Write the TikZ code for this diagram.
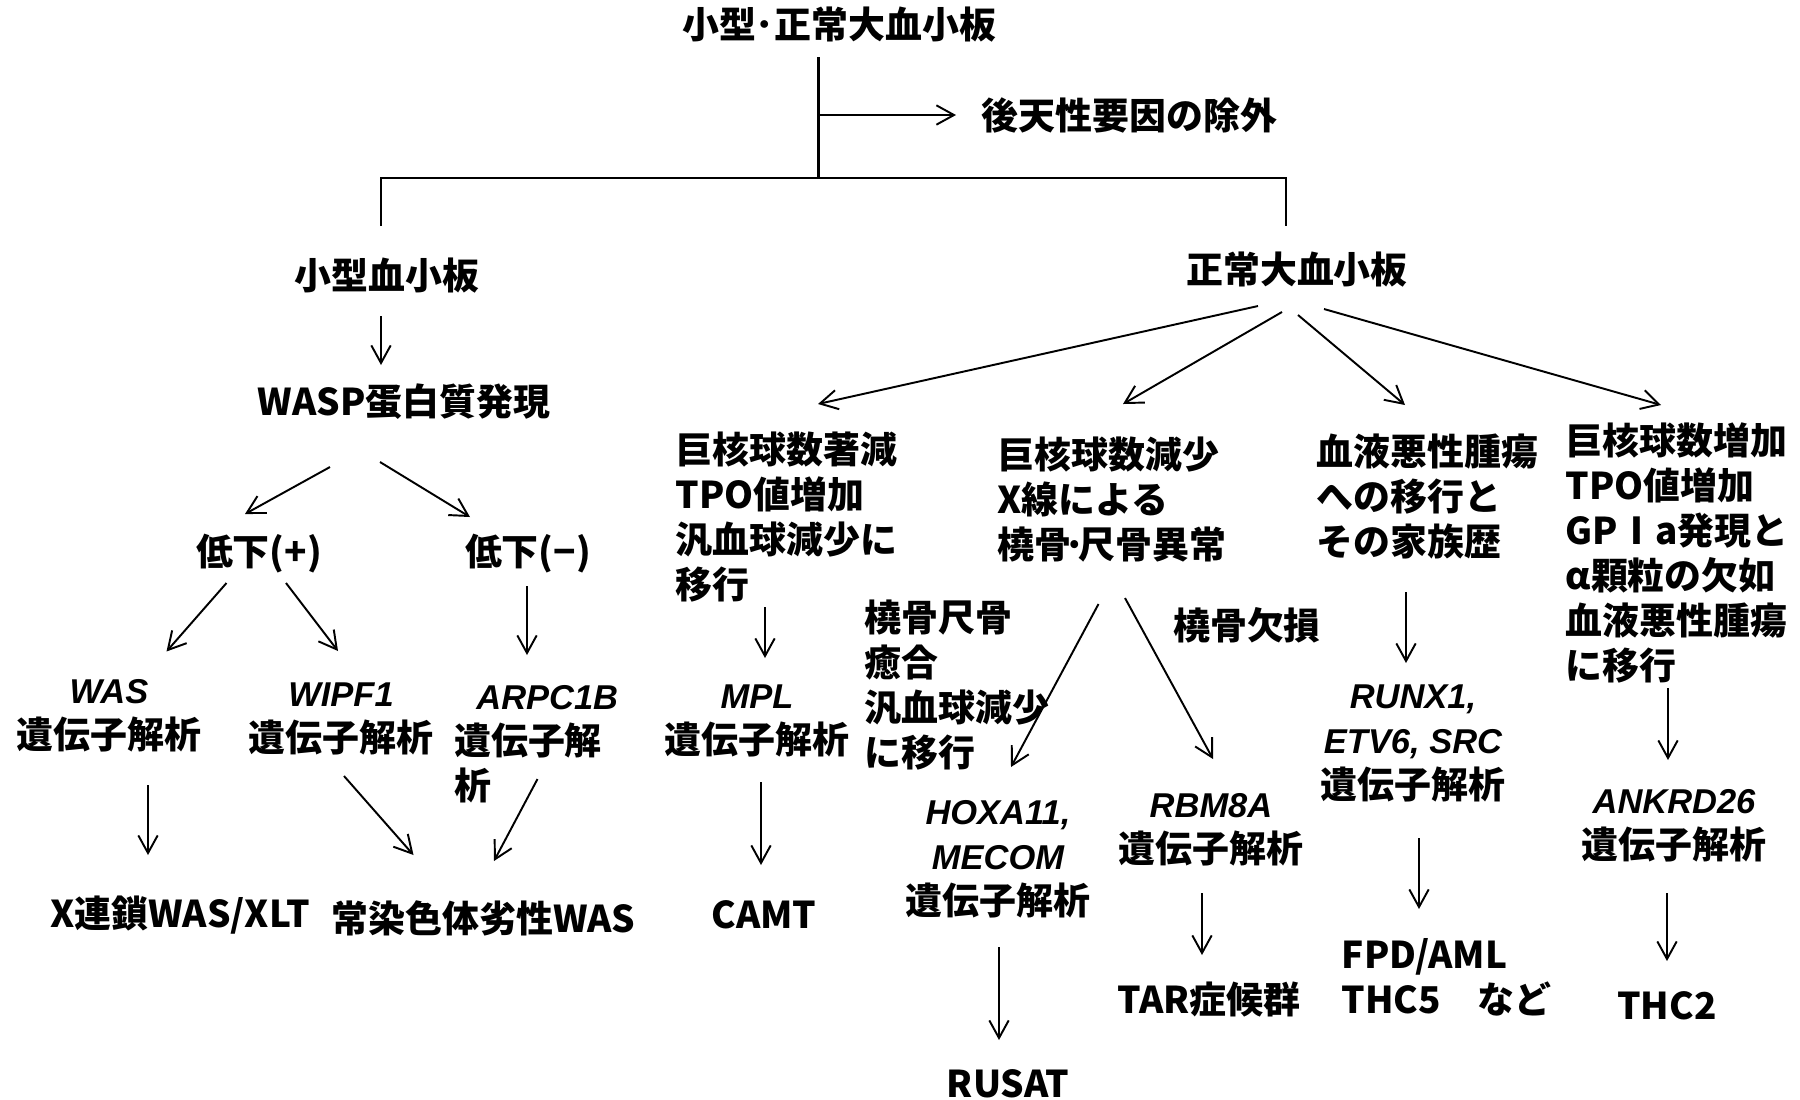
\documentclass[tikz,border=0pt]{standalone}
\usepackage{fontspec}
\setmainfont{Noto Sans CJK JP}
\newfontfamily\genefont{Liberation Sans}
\newcommand\genename[1]{{\genefont\fontsize{9.8pt}{12.8pt}\selectfont\bfseries\itshape #1}}
\usetikzlibrary{calc,arrows.meta}
\tikzset{
  txt/.style={inner sep=0pt, font=\fontsize{10.5pt}{12.8pt}\selectfont\bfseries},
  txtl/.style={txt, align=left, anchor=west},
  txtc/.style={txt, align=center},
  arr/.style={-{Straight Barb[length=5pt,width=5.5pt]}, line width=0.55pt},
  ln/.style={line width=0.65pt}
}
\begin{document}
\begin{tikzpicture}[x=0.01cm,y=-0.01cm]
\useasboundingbox (0,0) rectangle (1800,1099);
% ---- nodes ----
\node[txt] (title) at (839,25) {小型･正常大血小板};
\node[txt,anchor=west] (acq) at (981,115) {後天性要因の除外};
\coordinate (jn) at (818.5,178);
\node[txt] (small) at (387,276) {小型血小板};
\node[txt] (wasp) at (404,402) {WASP蛋白質発現};
\node[txt] (lowp) at (259,554) {低下(+)};
\node[txt] (lowm) at (528,554) {低下(−)};
\node[txtc] (was) at (109,716) {\genename{WAS}\\遺伝子解析};
\node[txtc] (wipf) at (341,719) {\genename{WIPF1}\\遺伝子解析};
\node[txtl] (arpc) at (453.5,744) {\hspace{0.6em}\genename{ARPC1B}\\遺伝子解\\析};
\node[txt] (xlink) at (180,915) {X連鎖WAS/XLT};
\node[txt] (ar) at (483.5,918) {常染色体劣性WAS};
\node[txt] (normal) at (1297,270) {正常大血小板};
\node[txtl] (c1) at (675,517) {巨核球数著減\\TPO値増加\\汎血球減少に\\移行};
\node[txtl] (c2) at (997,500) {巨核球数減少\\X線による\\橈骨\makebox[0.2em]{·}尺骨異常};
\node[txtl] (c3) at (1316,496) {血液悪性腫瘍\\への移行と\\その家族歴};
\node[txtl] (c4) at (1565,553) {巨核球数増加\\TPO値増加\\GPⅠa発現と\\α顆粒の欠如\\血液悪性腫瘍\\に移行};
\node[txtc] (mpl) at (757,721) {\genename{MPL}\\遺伝子解析};
\node[txt] (camt) at (764,915) {CAMT};
\node[txtl] (c2a) at (864,685) {橈骨尺骨\\癒合\\汎血球減少\\に移行};
\node[txt] (c2b) at (1247,625) {橈骨欠損};
\node[txtc] (hox) at (998,859) {\genename{HOXA11,}\\\genename{MECOM}\\遺伝子解析};
\node[txtc] (rbm) at (1211,830) {\genename{RBM8A}\\遺伝子解析};
\node[txt] (rusat) at (1008,1084) {RUSAT};
\node[txt] (tar) at (1209,999) {TAR症候群};
\node[txtc] (runx) at (1413,743) {\genename{RUNX1,}\\\genename{ETV6, SRC}\\遺伝子解析};
\node[txtl] (fpd) at (1341,977) {FPD/AML\\THC5　など};
\node[txtc] (ank) at (1674,826) {\genename{ANKRD26}\\遺伝子解析};
\node[txt] (thc2) at (1667,1006) {THC2};
% ---- connectors ----
\draw[ln] ($(title.center)+(-20.5,32)$) -- (jn);
\draw[arr] (jn |- acq.west) -- ($(acq.west)+(-25,0)$);
\draw[ln] ($(small.center)+(-6,-50)$) |- (jn) -| ($(normal.center)+(-11,-44)$);
\draw[arr] ($(small.center)+(-6,40)$) -- ($(wasp.center)+(-23,-37)$);
\draw[arr] ($(wasp.center)+(-74,65)$) -- ($(lowp.center)+(-14,-40)$);
\draw[arr] ($(wasp.center)+(-24,60)$) -- ($(lowm.center)+(-58,-37)$);
\draw[arr] ($(lowp.center)+(-32.5,29)$) -- ($(was.center)+(57.5,-64.5)$);
\draw[arr] ($(lowp.center)+(27,29)$) -- ($(wipf.center)+(-3,-68)$);
\draw[arr] ($(lowm.center)+(-1,32)$) -- ($(arpc.west)+(73.5,-89)$);
\draw[arr] ($(was.center)+(39,69)$) -- ($(xlink.center)+(-32,-60)$);
\draw[arr] ($(wipf.center)+(3,57)$) -- ($(ar.center)+(-70,-63)$);
\draw[arr] ($(arpc.west)+(84,35)$) -- ($(ar.center)+(10.5,-57)$);
\draw[arr] ($(normal.center)+(-39,36)$) -- ($(c1.west)+(143,-113)$);
\draw[arr] ($(normal.center)+(-15,42)$) -- ($(c2.west)+(126,-96)$);
\draw[arr] ($(normal.center)+(1,45)$) -- ($(c3.west)+(89,-91)$);
\draw[arr] ($(normal.center)+(27,39)$) -- ($(c4.west)+(96,-148)$);
\draw[arr] ($(c1.west)+(90,90)$) -- ($(mpl.center)+(8,-63)$);
\draw[arr] ($(mpl.center)+(4,61)$) -- ($(camt.center)+(-3,-50)$);
\draw[arr] ($(c2.west)+(101.5,104)$) -- ($(hox.center)+(13,-92)$);
\draw[arr] ($(c2.west)+(128,98)$) -- ($(rbm.center)+(2,-71)$);
\draw[arr] ($(hox.center)+(1,88)$) -- ($(rusat.center)+(-9,-44)$);
\draw[arr] ($(rbm.center)+(-9,63)$) -- ($(tar.center)+(-7,-44)$);
\draw[arr] ($(c3.west)+(90,96)$) -- ($(runx.center)+(-7,-80)$);
\draw[arr] ($(runx.center)+(6,95)$) -- ($(fpd.west)+(78,-68)$);
\draw[arr] ($(c4.west)+(103,135)$) -- ($(ank.center)+(-6,-66)$);
\draw[arr] ($(ank.center)+(-7,67)$) -- ($(thc2.center)+(0,-45)$);
\end{tikzpicture}
\end{document}
